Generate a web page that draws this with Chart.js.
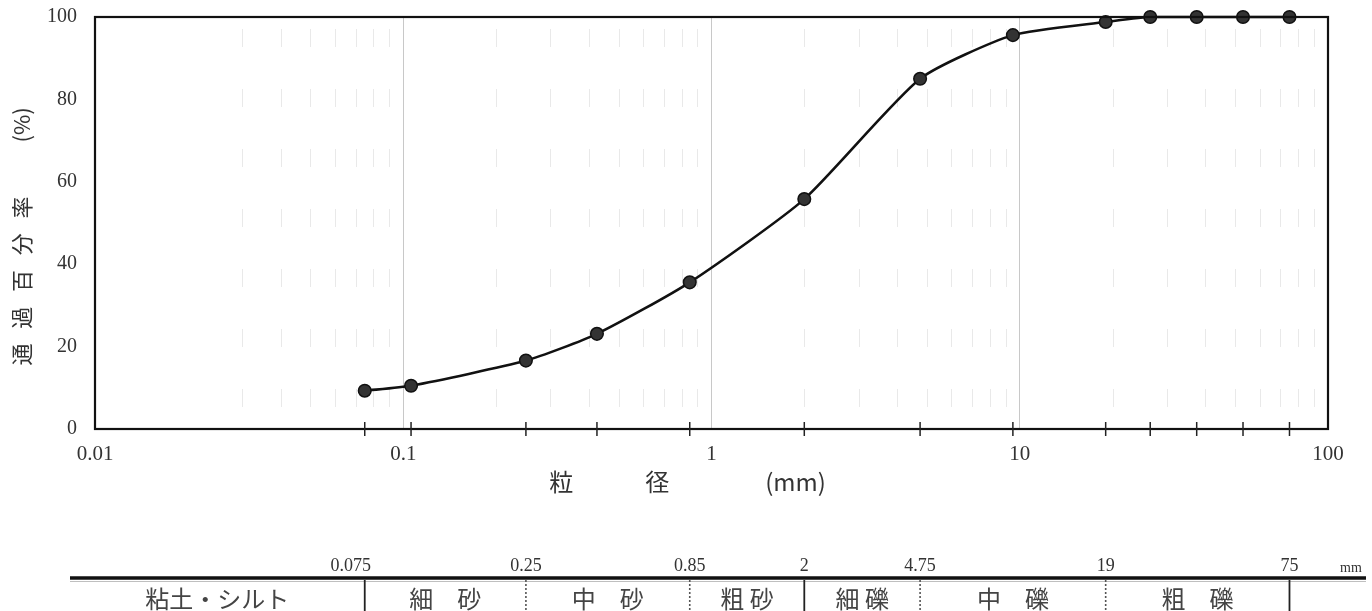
<!DOCTYPE html>
<html>
<head>
<meta charset="utf-8">
<script src="https://cdn.jsdelivr.net/npm/chart.js@4/dist/chart.umd.min.js"></script>
<style>
  html, body { margin: 0; padding: 0; background: #fff; }
  #wrap { width: 1372px; height: 611px; }
</style>
</head>
<body>
<div id="wrap"><canvas id="c" width="1372" height="611"></canvas></div>
<script>
// ---- data ----
const sieveSizes = [0.075, 0.106, 0.25, 0.425, 0.85, 2, 4.75, 9.5, 19, 26.5, 37.5, 53, 75];
const passingPct = [9.3, 10.5, 16.6, 23.1, 35.6, 55.8, 85.0, 95.6, 98.8, 100, 100, 100, 100];
const xTickValues = [0.01, 0.1, 1, 10, 100];
const yTickValues = [0, 20, 40, 60, 80, 100];
const classBounds = [0.075, 0.25, 0.85, 2, 4.75, 19, 75];
const classBoundLabels = ['0.075', '0.25', '0.85', '2', '4.75', '19', '75'];
const classBoundSolid = [true, false, false, true, false, false, true];
const classNames = ['粘土・シルト', '細　砂', '中　砂', '粗 砂', '細 礫', '中　礫', '粗　礫'];
const yTitle = '通   過   百   分   率　　  (%)　 ';
const xTitle = '粒　　　径　　　　(mm)　　';

const NUM_FONT = '"Liberation Serif", "DejaVu Serif", serif';
const JP_FONT = '"Noto Sans CJK JP", "Noto Sans", sans-serif';

const points = sieveSizes.map((x, i) => ({ x: x, y: passingPct[i] }));

const framePlugin = {
  id: 'frameAndExtras',
  beforeDatasetsDraw(chart) {
    const { ctx, chartArea: a, scales: { x } } = chart;
    // faint dashed minor grid lines
    ctx.save();
    ctx.strokeStyle = 'rgba(0,0,0,0.085)';
    ctx.lineWidth = 1;
    ctx.setLineDash([18, 42]);
    for (let d = 0.01; d < 100; d *= 10) {
      for (let m = (d < 0.05 ? 3 : 2); m <= 9; m++) {
        const v = d * m;
        const px = Math.round(x.getPixelForValue(v)) + 0.5;
        ctx.beginPath();
        ctx.moveTo(px, a.top + 12);
        ctx.lineTo(px, a.bottom);
        ctx.stroke();
      }
    }
    ctx.restore();
  },
  afterDraw(chart) {
    const { ctx, chartArea: a, scales: { x } } = chart;
    ctx.save();
    // frame
    ctx.strokeStyle = '#111';
    ctx.lineWidth = 2.2;
    ctx.strokeRect(a.left, a.top, a.right - a.left, a.bottom - a.top);
    // small tick marks at sieve sizes
    ctx.lineWidth = 1.5;
    ctx.strokeStyle = '#222';
    sieveSizes.forEach(v => {
      const px = x.getPixelForValue(v);
      ctx.beginPath();
      ctx.moveTo(px, a.bottom - 7);
      ctx.lineTo(px, a.bottom + 7);
      ctx.stroke();
    });

    // classification strip
    const lineY = 578;
    ctx.strokeStyle = '#111';
    ctx.lineWidth = 3.5;
    ctx.beginPath();
    ctx.moveTo(70, lineY);
    ctx.lineTo(1366, lineY);
    ctx.stroke();
    ctx.strokeStyle = 'rgba(0,0,0,0.25)';
    ctx.lineWidth = 1;
    ctx.beginPath();
    ctx.moveTo(70, lineY + 3.5);
    ctx.lineTo(1366, lineY + 3.5);
    ctx.stroke();

    ctx.fillStyle = '#333';
    ctx.font = '18px ' + NUM_FONT;
    ctx.textAlign = 'center';
    ctx.textBaseline = 'middle';
    const bx = classBounds.map(v => x.getPixelForValue(v));
    classBoundLabels.forEach((t, i) => {
      const off = i === 0 ? -14 : 0;
      ctx.fillText(t, bx[i] + off, 566);
    });
    ctx.font = '14px ' + NUM_FONT;
    ctx.fillText('mm', 1351, 568);

    bx.forEach((px, i) => {
      ctx.beginPath();
      if (classBoundSolid[i]) {
        ctx.setLineDash([]);
        ctx.strokeStyle = '#222';
        ctx.lineWidth = 1.8;
      } else {
        ctx.setLineDash([2, 2]);
        ctx.strokeStyle = '#555';
        ctx.lineWidth = 1.6;
      }
      ctx.moveTo(px, lineY + 2);
      ctx.lineTo(px, 611);
      ctx.stroke();
    });
    ctx.setLineDash([]);

    ctx.font = '24px ' + JP_FONT;
    ctx.fillStyle = '#444';
    const edges = [70].concat(bx);
    classNames.forEach((t, i) => {
      const cx = (edges[i] + edges[i + 1]) / 2;
      ctx.fillText(t, cx, 599);
    });
    ctx.restore();
  }
};

new Chart(document.getElementById('c'), {
  type: 'line',
  data: {
    datasets: [{
      data: points,
      borderColor: '#111',
      borderWidth: 2.6,
      backgroundColor: '#333',
      pointBackgroundColor: '#333',
      pointBorderColor: '#111',
      pointBorderWidth: 1.5,
      pointRadius: 6.3,
      tension: 0.2,
      clip: false
    }]
  },
  options: {
    responsive: false,
    animation: false,
    layout: { padding: { top: 17, right: 44, bottom: 0, left: 0 } },
    plugins: { legend: { display: false }, tooltip: { enabled: false } },
    scales: {
      x: {
        type: 'logarithmic',
        min: 0.01,
        max: 100,
        afterBuildTicks(scale) { scale.ticks = xTickValues.map(v => ({ value: v })); },
        afterFit(scale) { scale.height = 182; scale.paddingLeft = 0; scale.paddingRight = 0; },
        ticks: {
          autoSkip: false,
          maxRotation: 0,
          padding: 13,
          color: '#333',
          font: { family: NUM_FONT, size: 21 },
          callback: (v) => String(v)
        },
        grid: {
          drawTicks: false,
          color: (c) => (c.tick && (c.tick.value === 0.01 || c.tick.value === 100)) ? 'rgba(0,0,0,0)' : '#c8c8c8',
          lineWidth: 1
        },
        border: { display: false },
        title: {
          display: true,
          text: xTitle,
          color: '#333',
          font: { family: JP_FONT, size: 24 },
          padding: { top: 0, bottom: 115 }
        }
      },
      y: {
        min: 0,
        max: 100,
        afterBuildTicks(scale) { scale.ticks = yTickValues.map(v => ({ value: v })); },
        afterFit(scale) { scale.width = 95; scale.paddingTop = 0; scale.paddingBottom = 0; },
        ticks: {
          padding: 18,
          color: '#333',
          font: { family: NUM_FONT, size: 20 }
        },
        grid: { display: false, drawTicks: false },
        border: { display: false },
        title: {
          display: true,
          text: yTitle,
          color: '#333',
          font: { family: JP_FONT, size: 22 },
          padding: { top: 8, bottom: 0 }
        }
      }
    }
  },
  plugins: [framePlugin]
});
</script>
</body>
</html>
